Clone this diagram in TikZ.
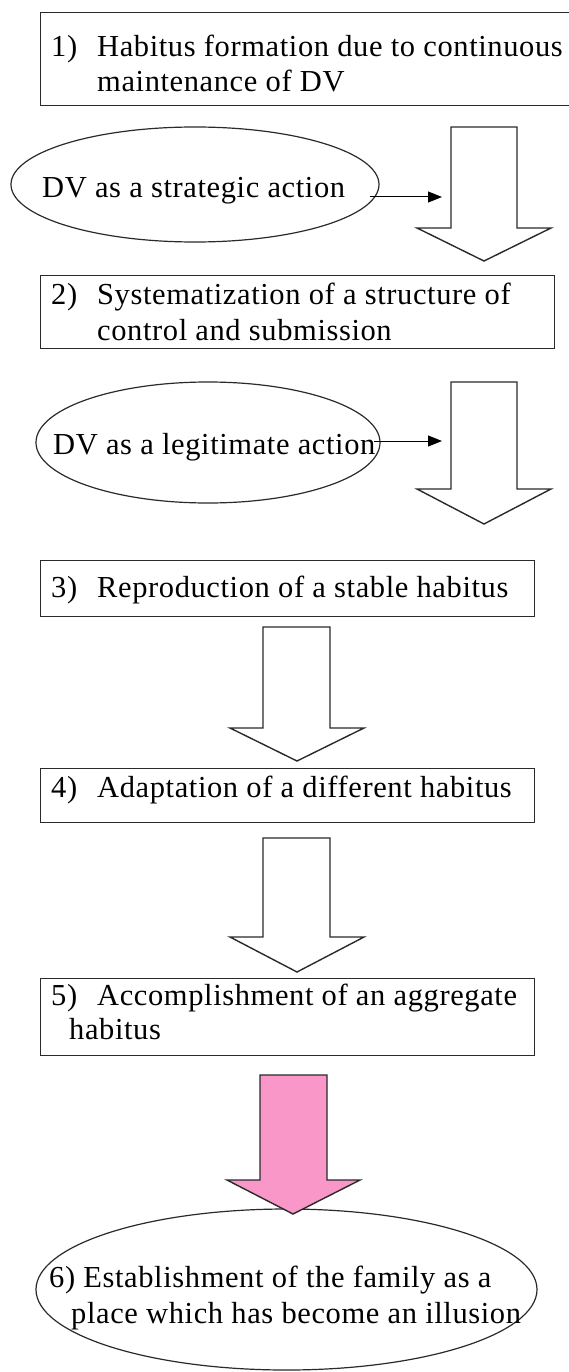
\documentclass[tikz,border=0pt]{standalone}
\usepackage{fontspec}
\setmainfont[LetterSpace=2]{Liberation Serif}
\usetikzlibrary{arrows.meta,shapes.geometric}
\definecolor{linegray}{HTML}{2A2A2A}
\definecolor{pinkfill}{HTML}{F897C8}
\begin{document}
\begin{tikzpicture}[x=1pt,y=-1pt,
  boxshape/.style={draw=linegray, line width=1.4pt, rectangle, inner sep=0pt, anchor=north west},
  ellshape/.style={draw=linegray, line width=1.2pt, ellipse, inner sep=0pt},
  txt/.style={anchor=base west, inner sep=0pt, font=\fontsize{30.5}{35}\selectfont},
  blockarrow/.style={draw=linegray, line width=1.4pt, line join=miter, fill=white},
  smallarrow/.style={draw=black, line width=1pt, -{Triangle[length=14pt,width=11pt]}}]
\useasboundingbox (0,0) rectangle (569,1372);
% boxes
\node[boxshape, minimum width=545pt, minimum height=93pt] (b1) at (40,12) {};
\node[boxshape, minimum width=514pt, minimum height=73pt] (b2) at (40,275) {};
\node[boxshape, minimum width=494pt, minimum height=56pt] (b3) at (40,560) {};
\node[boxshape, minimum width=494pt, minimum height=54pt] (b4) at (40,768) {};
\node[boxshape, minimum width=494pt, minimum height=77pt] (b5) at (40,978) {};
% ellipses
\node[ellshape, minimum width=368pt, minimum height=115pt] (e1) at (195,184.5) {};
\node[ellshape, minimum width=344pt, minimum height=121pt] (e2) at (208,442.5) {};
\node[ellshape, minimum width=501pt, minimum height=161pt] (e6) at (286.5,1289.5) {};
% texts
\node[txt] (n1) at (51,57) {1)};
\node[txt] (t1a) at (97,57) {Habitus formation due to continuous};
\node[txt] (t1b) at (97,92) {maintenance of DV};
\node[txt] (n2) at (51,304) {2)};
\node[txt] (t2a) at (97,304) {Systematization of a structure of};
\node[txt] (t2b) at (97,340) {control and submission};
\node[txt] (n3) at (51,597) {3)};
\node[txt] (t3) at (97,597) {Reproduction of a stable habitus};
\node[txt] (n4) at (51,797) {4)};
\node[txt] (t4) at (97,797) {Adaptation of a different habitus};
\node[txt] (n5) at (51,1005) {5)};
\node[txt] (t5a) at (97,1005) {Accomplishment of an aggregate};
\node[txt] (t5b) at (69,1039) {habitus};
\node[txt] (te1) at (42,198) {DV as a strategic action};
\node[txt] (te2) at (53,454) {DV as a legitimate action};
\node[txt] (te6a) at (49,1287) {6) Establishment of the family as a};
\node[txt] (te6b) at (71,1323) {place which has become an illusion};
% block arrows
\draw[blockarrow] (451,127) -- (517,127) -- (517,228) -- (551,228) -- (484,261) -- (417,228) -- (451,228) -- cycle;
\draw[blockarrow] (451,382) -- (517,382) -- (517,489) -- (551,489) -- (484,524) -- (417,489) -- (451,489) -- cycle;
\draw[blockarrow] (263,627) -- (330,627) -- (330,728) -- (364,728) -- (297,761) -- (230,728) -- (263,728) -- cycle;
\draw[blockarrow] (263,838) -- (330,838) -- (330,937) -- (364,937) -- (297,972) -- (230,937) -- (263,937) -- cycle;
\draw[blockarrow, fill=pinkfill] (260,1075) -- (327,1075) -- (327,1180) -- (360,1180) -- (293,1214) -- (227,1180) -- (260,1180) -- cycle;
% small arrows
\coordinate (s1) at (370,197);
\coordinate (d1) at (442,197);
\coordinate (s2) at (374,441);
\coordinate (d2) at (442,441);
\draw[smallarrow] (s1) -- (d1);
\draw[smallarrow] (s2) -- (d2);
\end{tikzpicture}
\end{document}
